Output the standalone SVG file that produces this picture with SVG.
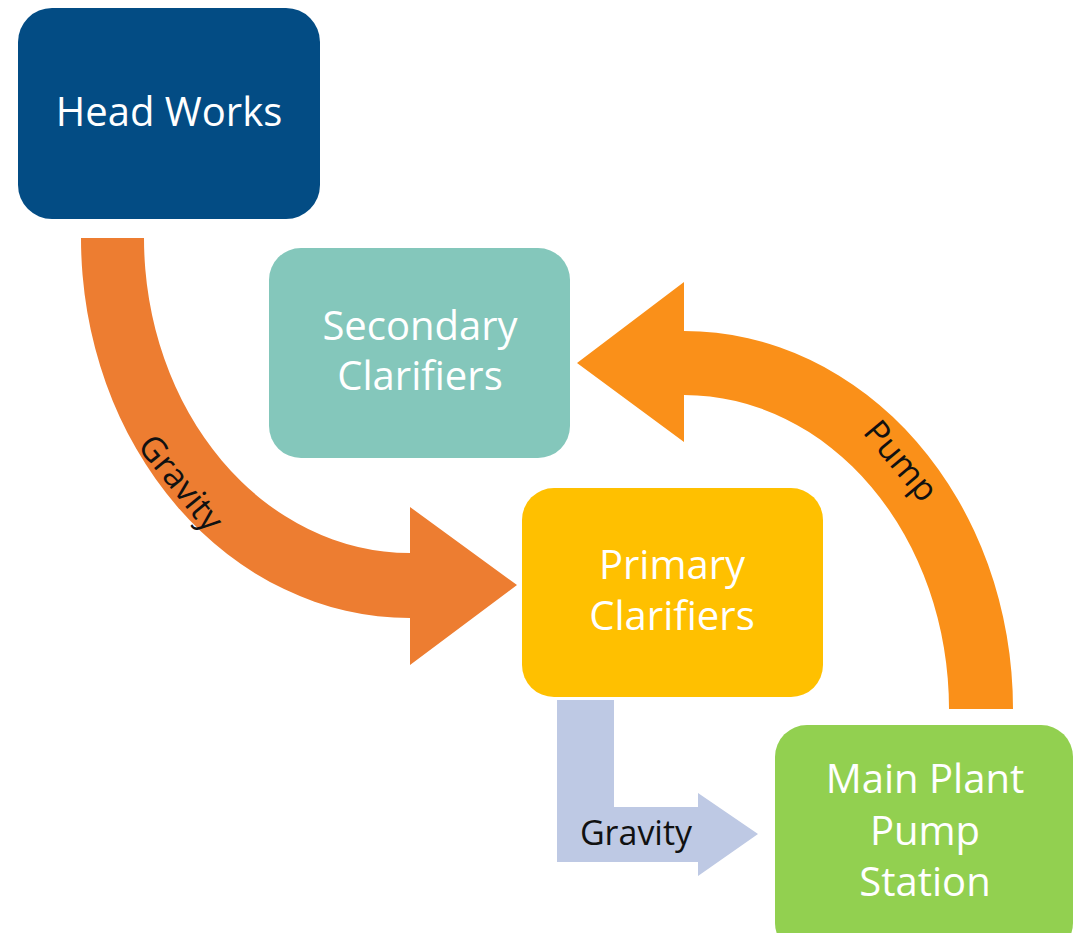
<svg xmlns="http://www.w3.org/2000/svg" width="1074" height="933" viewBox="0 0 1074 933">
<style>
.lbl{font-family:"Open Sans","Noto Sans",sans-serif;font-size:40px;fill:#ffffff;text-anchor:middle}
.clbl{font-family:"Open Sans","Noto Sans",sans-serif;font-size:34px;fill:#111111;text-anchor:middle}
</style>
<rect width="1074" height="933" fill="#ffffff"/>
<g id="connectors">
<path id="gravity1" d="M81,238 L144,238 A266,315 0 0 0 410,553 L410,507 L517,585 L410,665 L410,618 A329,380 0 0 1 81,238 Z" fill="#ED7D31"/>
<text class="clbl" transform="translate(182,482) rotate(51)" dominant-baseline="central">Gravity</text>
<path id="pump" d="M1013,709 L949,709 A265,314 0 0 0 684,395 L684,442 L577,363 L684,282 L684,331 A329,378 0 0 1 1013,709 Z" fill="#FA9019"/>
<text class="clbl" transform="translate(902,460) rotate(50)" dominant-baseline="central">Pump</text>
<path id="gravity2" d="M557,700 L614,700 L614,807 L698,807 L698,793 L758,834 L698,876 L698,862 L557,862 Z" fill="#BEC9E4"/>
<text class="clbl" x="636" y="845">Gravity</text>
</g>
<g id="headworks">
<rect x="18" y="8" width="302" height="211" rx="34" fill="#034C84"/>
<text class="lbl" x="169" y="126">Head Works</text>
</g>
<g id="secondary">
<rect x="269" y="248" width="301" height="210" rx="32" fill="#84C7BB"/>
<text class="lbl" x="420" y="340">Secondary</text>
<text class="lbl" x="420" y="390">Clarifiers</text>
</g>
<g id="primary">
<rect x="522" y="488" width="301" height="209" rx="32" fill="#FFC000"/>
<text class="lbl" x="672" y="579">Primary</text>
<text class="lbl" x="672" y="630">Clarifiers</text>
</g>
<g id="mainplant">
<rect x="775" y="725" width="298" height="230" rx="32" fill="#92D050"/>
<text class="lbl" x="925" y="793">Main Plant</text>
<text class="lbl" x="925" y="845">Pump</text>
<text class="lbl" x="925" y="896">Station</text>
</g>
</svg>
